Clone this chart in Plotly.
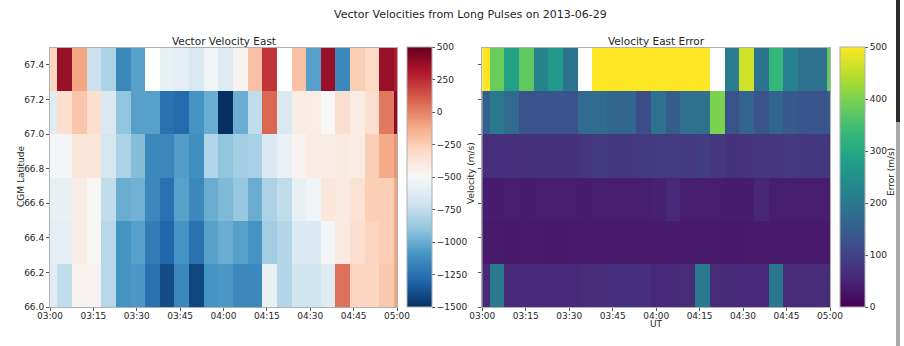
import plotly.graph_objects as go
from datetime import datetime, timedelta

# ---------------- data ----------------
t0 = datetime(2013, 6, 29, 3, 0, 0)
step_s = 304  # cell spacing in seconds
times = [(t0 + timedelta(seconds=step_s * k)).strftime("%Y-%m-%d %H:%M:%S") for k in range(25)]
lats = [66.125, 66.375, 66.625, 66.875, 67.125, 67.375]
N = None

vel_66125 = [-620, -750, -470, -470, -780, -1100, -1080, -1250, -1400, -1150, -1420, -1100, -1080, -1150, -1150, -580, -800, -700, -700, -620, 50, -280, -280, -230, -100]
vel_66375 = [-600, -600, -420, -490, -780, -1100, -1050, -1200, -1300, -1100, -1250, -1050, -1000, -1050, -1100, -850, -800, -650, -650, -520, -400, -330, -280, -250, -100]
vel_66625 = [-580, -580, -420, -490, -750, -1000, -980, -1150, -1250, -1050, -1150, -1000, -950, -880, -1000, -820, -750, -580, -530, -380, -400, -350, -250, -250, -100]
vel_66875 = [-520, -520, -380, -380, -680, -820, -930, -1150, -1150, -1060, -1120, -800, -900, -850, -830, -650, -570, -470, -420, -420, -400, -420, -250, -120, -50]
vel_67125 = [-620, -330, -220, -330, -650, -900, -1050, -1050, -1250, -1280, -1100, -1000, -1500, -1000, -750, 80, -650, -420, -430, -500, -330, -420, -330, 30, 400]
vel_67375 = [-280, 370, -100, -720, -820, -1150, -1050, N, -580, -600, -660, -530, -630, -470, -200, 220, N, -200, -1050, 370, -1150, -250, -300, 370, 300]

err_66125 = [55, 205, 58, 55, 55, 55, 55, 62, 65, 68, 68, 68, 55, 55, 60, 205, 60, 55, 55, 55, 200, 60, 60, 62, 60]
err_66375 = [35, 34, 33, 35, 34, 33, 34, 35, 36, 36, 35, 36, 35, 38, 35, 35, 34, 33, 34, 36, 35, 34, 35, 35, 35]
err_66625 = [42, 38, 40, 38, 40, 42, 40, 38, 40, 40, 40, 42, 45, 55, 40, 40, 40, 38, 38, 52, 42, 40, 40, 41, 40]
err_66875 = [65, 68, 68, 70, 72, 70, 70, 75, 85, 82, 80, 85, 88, 88, 85, 90, 80, 72, 74, 78, 80, 85, 80, 82, 80]
err_67125 = [150, 200, 170, 125, 130, 130, 125, 170, 175, 165, 165, 120, 185, 145, 185, 185, 400, 125, 160, 130, 160, 140, 135, 130, 140]
err_67375 = [520, 385, 285, 375, 225, 265, 190, N, 600, 600, 600, 600, 600, 600, 600, 600, N, 210, 465, 190, 330, 220, 185, 185, 380]

vel = [vel_66125, vel_66375, vel_66625, vel_66875, vel_67125, vel_67375]
err = [err_66125, err_66375, err_66625, err_66875, err_67125, err_67375]

xticks = [(t0 + timedelta(minutes=15 * i)).strftime("%Y-%m-%d %H:%M:%S") for i in range(9)]
xticktext = [(t0 + timedelta(minutes=15 * i)).strftime("%H:%M") for i in range(9)]
yticks = [66.0, 66.2, 66.4, 66.6, 66.8, 67.0, 67.2, 67.4]
vel_ticks = [500, 250, 0, -250, -500, -750, -1000, -1250, -1500]
err_ticks = [0, 100, 200, 300, 400, 500]

# ---------------- styling ----------------
W, H = 904, 346
FONT = "DejaVu Sans"
TXT = "#262626"
rdbu_r = ["rgb(5,48,97)", "rgb(33,102,172)", "rgb(67,147,195)", "rgb(146,197,222)", "rgb(209,229,240)",
          "rgb(247,247,247)", "rgb(253,219,199)", "rgb(244,165,130)", "rgb(214,96,77)", "rgb(178,24,43)",
          "rgb(103,0,31)"]
rdbu_scale = [[i / 10, c] for i, c in enumerate(rdbu_r)]

def px(x):
    return x / W

def py(y):
    return (H - y) / H

top, bot = 47.5, 307.0
ydom = [py(bot), py(top)]
cb_len = (bot - top) / H

fig = go.Figure()
fig.add_trace(go.Heatmap(
    x=times, y=lats, z=vel, zmin=-1500, zmax=500, colorscale=rdbu_scale,
    xaxis="x", yaxis="y", hoverongaps=False,
    colorbar=dict(x=px(407), xanchor="left", y=py(bot), yanchor="bottom", len=cb_len, lenmode="fraction",
                  thickness=25, thicknessmode="pixels", outlinewidth=1, outlinecolor="#b0b0b0",
                  tickvals=vel_ticks, ticks="outside", ticklen=3, tickcolor="#555",
                  tickfont=dict(family=FONT, size=9, color=TXT), xpad=0, ypad=0)))
fig.add_trace(go.Heatmap(
    x=times, y=lats, z=err, zmin=0, zmax=500, colorscale="Viridis",
    xaxis="x2", yaxis="y2", hoverongaps=False,
    colorbar=dict(x=px(840), xanchor="left", y=py(bot), yanchor="bottom", len=cb_len, lenmode="fraction",
                  thickness=25, thicknessmode="pixels", outlinewidth=1, outlinecolor="#b0b0b0",
                  tickvals=err_ticks, ticks="outside", ticklen=3, tickcolor="#555",
                  tickfont=dict(family=FONT, size=9, color=TXT), xpad=0, ypad=0)))

xcommon = dict(range=[xticks[0], xticks[-1]], tickvals=xticks, ticktext=xticktext, ticks="outside",
               ticklen=3, tickcolor="#555", showgrid=False, zeroline=False, showline=True, mirror=True,
               linecolor="#b0b0b0", linewidth=1, tickfont=dict(family=FONT, size=9, color=TXT),
               ticklabelstandoff=-3)
ycommon = dict(range=[66.0, 67.5], tickvals=yticks, tickformat=".1f", ticks="outside", ticklen=3,
               tickcolor="#555", showgrid=False, zeroline=False, showline=True, mirror=True,
               linecolor="#b0b0b0", linewidth=1, tickfont=dict(family=FONT, size=9, color=TXT))

fig.update_layout(
    width=W, height=H, margin=dict(l=0, r=0, t=0, b=0, autoexpand=False),
    paper_bgcolor="white", plot_bgcolor="white",
    font=dict(family=FONT, color=TXT),
    xaxis=dict(domain=[px(50), px(397)], anchor="y", **xcommon),
    yaxis=dict(domain=ydom, anchor="x", **ycommon),
    xaxis2=dict(domain=[px(482.3), px(830)], anchor="y2", **xcommon),
    yaxis2=dict(domain=ydom, anchor="x2", showticklabels=False, **ycommon),
    showlegend=False,
)

ann = [
    dict(text="Vector Velocities from Long Pulses on 2013-06-29", x=px(470), y=py(15), size=11, angle=0),
    dict(text="Vector Velocity East", x=px(223.5), y=py(41), size=10.5, angle=0),
    dict(text="Velocity East Error", x=px(656), y=py(41), size=10.5, angle=0),
    dict(text="CGM Latitude", x=px(21), y=py(177), size=9, angle=-90),
    dict(text="Velocity (m/s)", x=px(471), y=py(173), size=9, angle=-90),
    dict(text="Error (m/s)", x=px(891), y=py(172), size=9, angle=-90),
    dict(text="UT", x=px(656), y=py(324), size=9, angle=0),
]
for a in ann:
    fig.add_annotation(text=a["text"], x=a["x"], y=a["y"], xref="paper", yref="paper",
                       xanchor="center", yanchor="middle", showarrow=False, textangle=a["angle"],
                       font=dict(family=FONT, size=a["size"], color=TXT))

# window scrollbar strip seen at the right edge of the reference screenshot
fig.add_shape(type="rect", xref="paper", yref="paper", x0=px(896), x1=px(900), y0=py(122), y1=py(0),
              fillcolor="#2b2b2b", line_width=0, layer="above")
fig.add_shape(type="rect", xref="paper", yref="paper", x0=px(896), x1=px(900), y0=py(346), y1=py(122),
              fillcolor="#a8a8a8", line_width=0, layer="above")

fig.write_html("out.html")
